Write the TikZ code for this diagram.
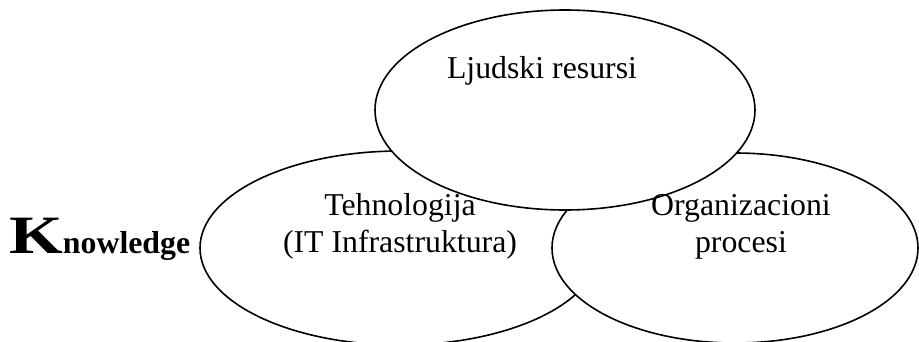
\documentclass[tikz,border=0pt]{standalone}
\usepackage{fontspec}
\setmainfont{Liberation Serif}
\usetikzlibrary{shapes.geometric}
\tikzset{
  krug/.style={ellipse, draw, fill=white, line width=1.6pt, inner sep=0pt},
  natpis/.style={font=\fontsize{31.8}{37}\selectfont, inner sep=0pt, anchor=base}
}
\begin{document}
\begin{tikzpicture}[x=1pt,y=-1pt]
\useasboundingbox (0,0) rectangle (919,341);
\node[krug, minimum width=400pt, minimum height=194pt] (teh) at (400,248) {};
\node[krug, minimum width=366pt, minimum height=190pt] (org) at (735,248) {};
\node[krug, minimum width=380pt, minimum height=200pt] (ljud) at (565,110) {};
\node[natpis] (ljudtxt) at (542,78) {Ljudski resursi};
\node[natpis] (tehtxt) at (400,215) {Tehnologija};
\node[natpis] (ittxt) at (400,252) {(IT Infrastruktura)};
\node[natpis] (orgtxt) at (741,215) {Organizacioni};
\node[natpis] (proctxt) at (741,252) {procesi};
\node[natpis, anchor=base west] (znanje) at (9,253) {\bfseries\scalebox{1.28}[1]{\fontsize{54}{54}\selectfont K}nowledge};
\end{tikzpicture}
\end{document}
